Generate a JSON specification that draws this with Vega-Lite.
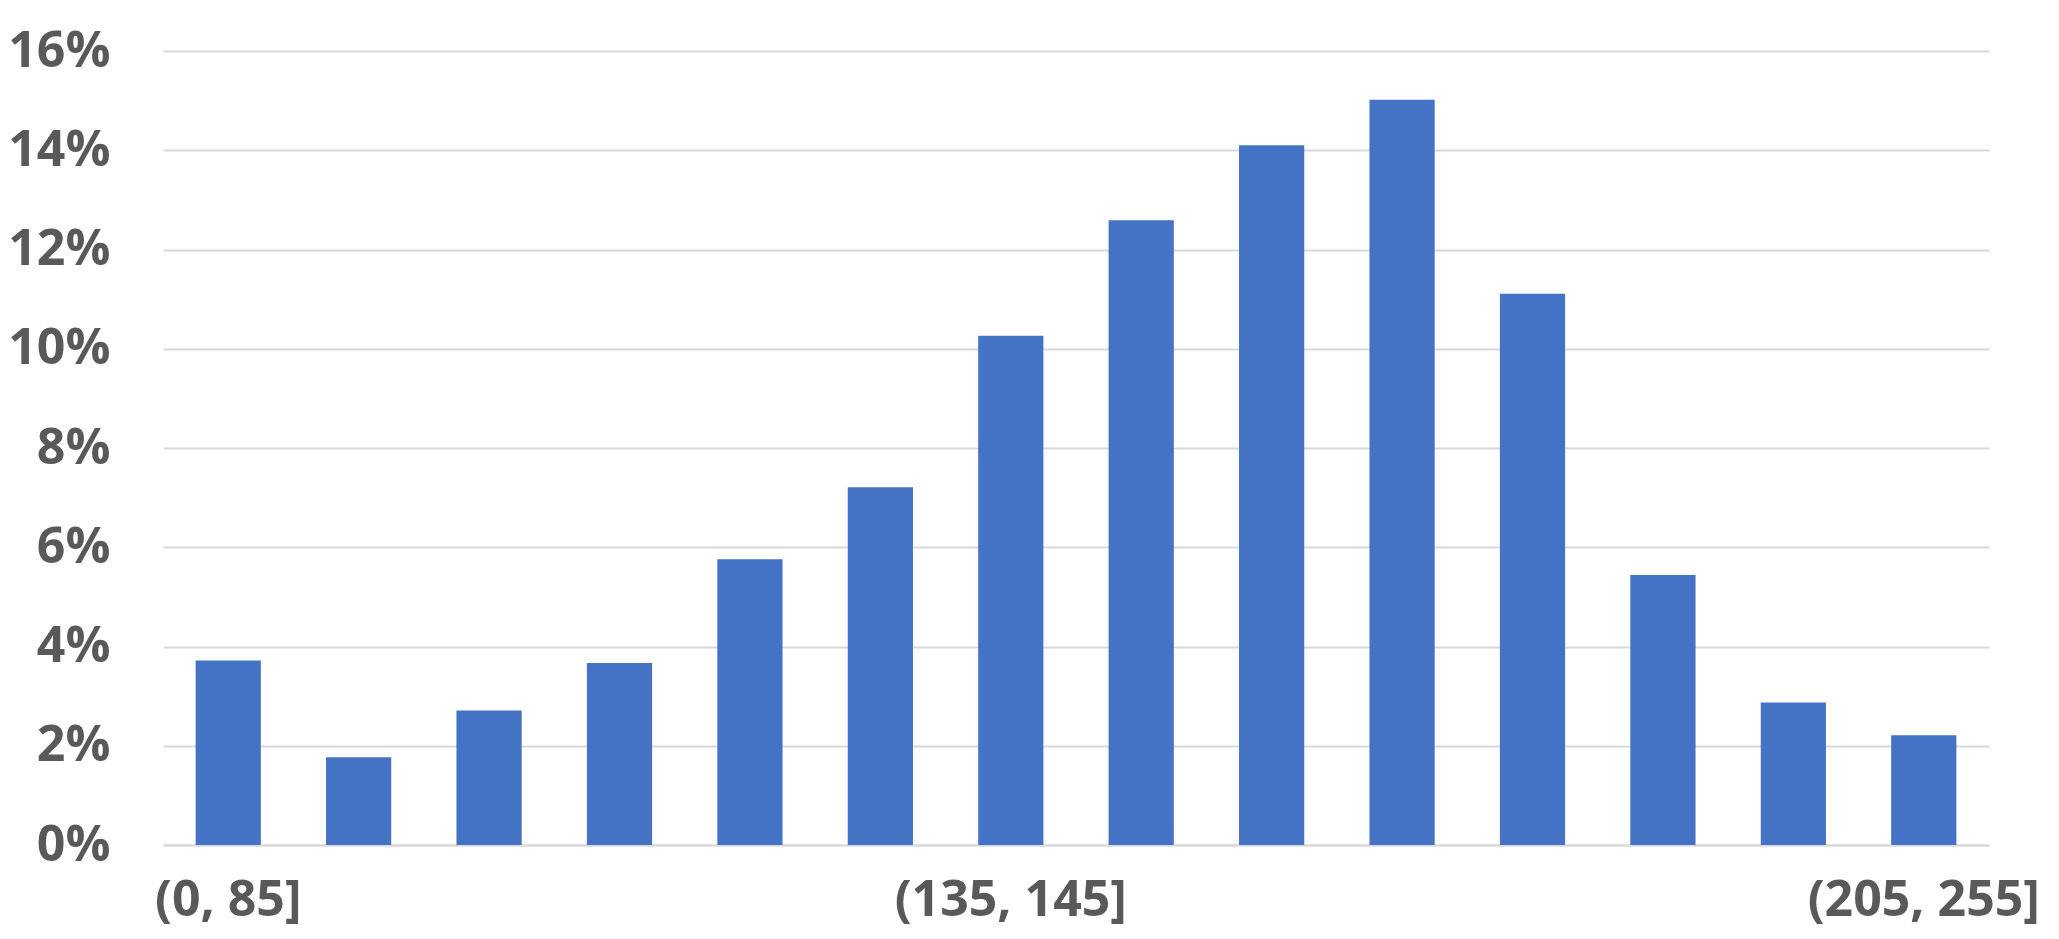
{
  "$schema": "https://vega.github.io/schema/vega-lite/v6.json",
  "autosize": {"type": "none"},
  "width": 1826,
  "height": 794,
  "padding": {"left": 163, "top": 51, "right": 70, "bottom": 94},
  "background": "white",
  "config": {"view": {"stroke": null}},
  "data": {
    "values": [
      {"bin": "(0, 85]", "share": 0.0372},
      {"bin": "(85, 95]", "share": 0.0177},
      {"bin": "(95, 105]", "share": 0.0271},
      {"bin": "(105, 115]", "share": 0.0367},
      {"bin": "(115, 125]", "share": 0.0576},
      {"bin": "(125, 135]", "share": 0.0721},
      {"bin": "(135, 145]", "share": 0.1026},
      {"bin": "(145, 155]", "share": 0.1259},
      {"bin": "(155, 165]", "share": 0.1410},
      {"bin": "(165, 175]", "share": 0.1502},
      {"bin": "(175, 185]", "share": 0.1111},
      {"bin": "(185, 195]", "share": 0.0544},
      {"bin": "(195, 205]", "share": 0.0287},
      {"bin": "(205, 255]", "share": 0.0221}
    ]
  },
  "mark": {"type": "bar", "color": "#4472C4"},
  "encoding": {
    "x": {
      "field": "bin",
      "type": "nominal",
      "sort": null,
      "scale": {"paddingInner": 0.5, "paddingOuter": 0.25},
      "axis": {
        "title": null,
        "labelAngle": 0,
        "ticks": false,
        "domainColor": "#d9d9d9",
        "domainWidth": 2,
        "labelFont": "Open Sans",
        "labelFontWeight": "bold",
        "labelFontSize": 50,
        "labelColor": "#595959",
        "labelPadding": 30,
        "labelLimit": 0,
        "labelOverlap": false,
        "labelExpr": "indexof(['(0, 85]','(135, 145]','(205, 255]'], datum.value) >= 0 ? datum.value : ''"
      }
    },
    "y": {
      "field": "share",
      "type": "quantitative",
      "scale": {"domain": [0, 0.16], "nice": false},
      "axis": {
        "title": null,
        "values": [0, 0.02, 0.04, 0.06, 0.08, 0.1, 0.12, 0.14, 0.16],
        "format": ".0%",
        "domain": false,
        "ticks": false,
        "gridColor": "#d9d9d9",
        "gridWidth": 2,
        "labelFont": "Open Sans",
        "labelFontWeight": "bold",
        "labelFontSize": 50,
        "labelColor": "#595959",
        "labelPadding": 53
      }
    }
  }
}
